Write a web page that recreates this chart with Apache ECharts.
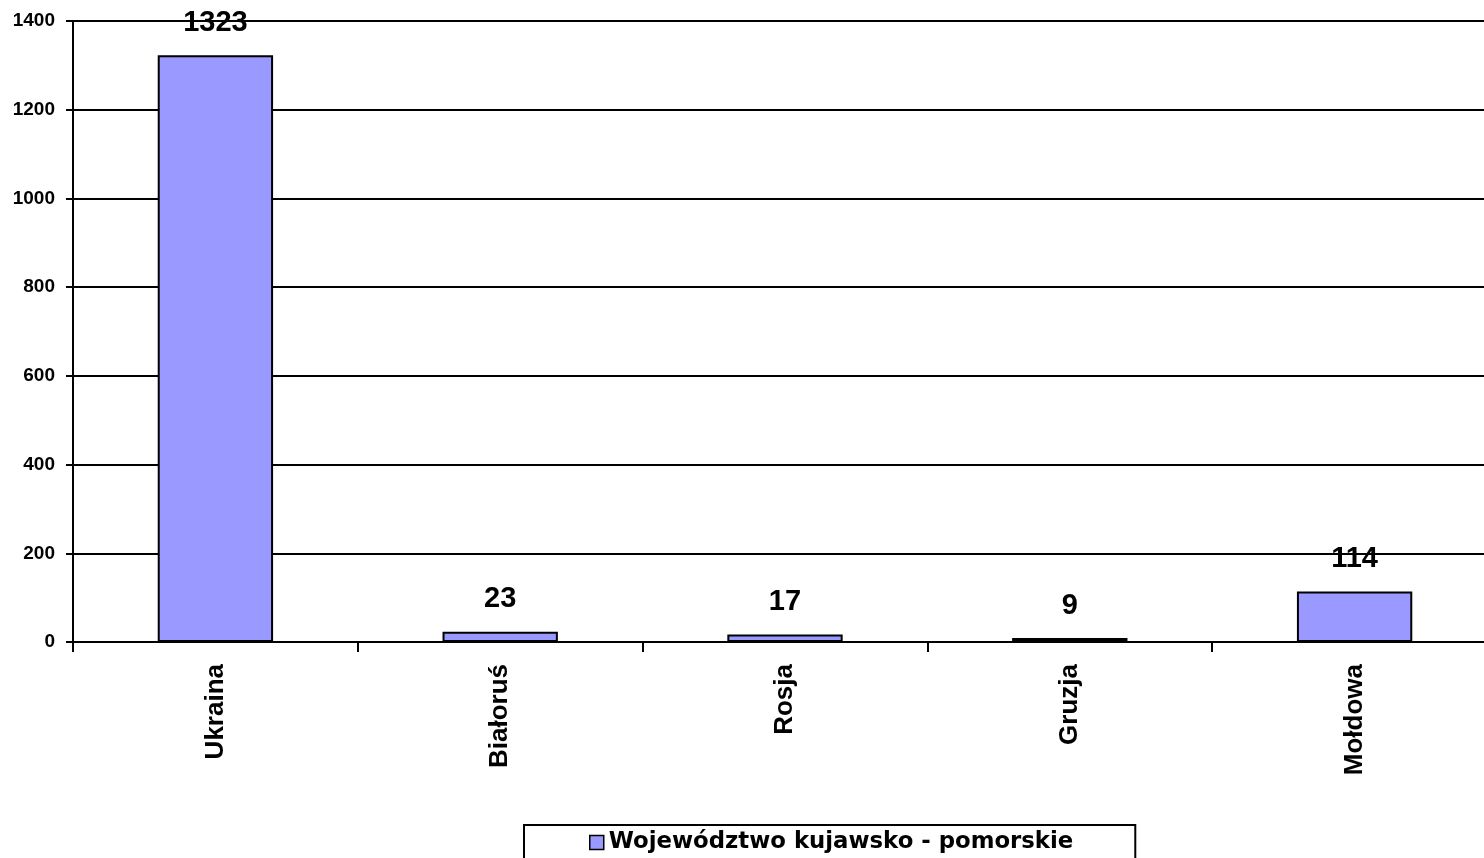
<!DOCTYPE html>
<html><head><meta charset="utf-8">
<script src="https://cdn.jsdelivr.net/npm/echarts@6/dist/echarts.min.js"></script>
<style>html,body{margin:0;padding:0;background:#fff}#c{width:1484px;height:858px}</style>
</head><body><div id="c"></div>
<script>
const categories = ['Ukraina', 'Białoruś', 'Rosja', 'Gruzja', 'Mołdowa'];
const values = [1323, 23, 17, 9, 114];
const seriesName = 'Województwo kujawsko - pomorskie';
const yTicks = [0, 200, 400, 600, 800, 1000, 1200, 1400];

const chart = echarts.init(document.getElementById('c'));
const F = 'Liberation Sans, Arial, sans-serif';
chart.setOption({
  animation: false,
  backgroundColor: '#fff',
  grid: { left: 73, width: 1424, top: 21, height: 621, containLabel: false, outerBoundsMode: 'none' },
  legend: {
    data: [seriesName],
    left: 524, top: 825,
    padding: [6, 62, 14, 65],
    borderColor: '#000', borderWidth: 2, borderRadius: 0,
    itemWidth: 14, itemHeight: 14, itemGap: 4,
    icon: 'rect',
    itemStyle: { borderColor: '#000', borderWidth: 1.5 },
    textStyle: { fontFamily: 'DejaVu Sans', fontWeight: 'bold', fontSize: 22.8, color: '#000' }
  },
  xAxis: {
    type: 'category', data: categories,
    axisLine: { lineStyle: { color: '#000', width: 2 } },
    axisTick: { show: true, length: 10, lineStyle: { color: '#000', width: 2 } },
    axisLabel: { rotate: 90, margin: 22, fontFamily: F, fontWeight: 'bold', fontSize: 26, color: '#000' }
  },
  yAxis: {
    type: 'value', min: 0, max: 1400, interval: 200,
    axisLine: { show: true, lineStyle: { color: '#000', width: 2 } },
    axisTick: { show: true, length: 7, lineStyle: { color: '#000', width: 2 } },
    splitLine: { lineStyle: { color: '#000', width: 2 } },
    axisLabel: { margin: 18, fontFamily: F, fontWeight: 'bold', fontSize: 19, color: '#000',
      formatter: v => yTicks.includes(v) ? String(v) : '' }
  },
  series: [{
    name: seriesName, type: 'bar', data: values, barWidth: '40.5%',
    itemStyle: { color: '#9999FF', borderColor: '#000', borderWidth: 2 },
    label: { show: true, position: 'top', distance: 18, fontFamily: F, fontWeight: 'bold', fontSize: 29, color: '#000' }
  }]
});
</script></body></html>
